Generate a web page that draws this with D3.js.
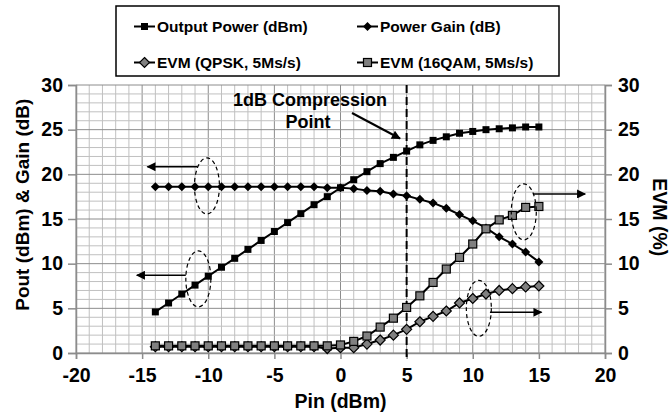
<!DOCTYPE html>
<html><head><meta charset="utf-8">
<script src="https://cdn.jsdelivr.net/npm/d3@7"></script>
<style>
body{margin:0;background:#fff;}
text{font-family:"Liberation Sans",Arial,sans-serif;font-weight:bold;fill:#000;}
</style></head>
<body><svg id="c" width="671" height="416"></svg>
<script>
const pin = d3.range(-14, 16);
const outputPower = [4.6,5.6,6.6,7.6,8.6,9.6,10.6,11.6,12.6,13.6,14.6,15.6,16.6,17.5,18.5,19.4,20.3,21.2,21.9,22.6,23.3,23.8,24.2,24.6,24.8,25.0,25.1,25.2,25.3,25.3];
const powerGain = [18.6,18.6,18.6,18.6,18.6,18.6,18.6,18.6,18.6,18.6,18.6,18.6,18.6,18.5,18.5,18.4,18.2,18.1,17.8,17.6,17.2,16.8,16.2,15.5,14.8,14.0,13.0,12.2,11.3,10.2];
const evmQPSK = [0.7,0.7,0.7,0.7,0.7,0.7,0.7,0.7,0.7,0.7,0.7,0.7,0.7,0.5,0.6,0.6,1.0,1.45,2.0,2.65,3.5,4.1,4.7,5.6,6.1,6.6,7.0,7.2,7.4,7.5];
const evm16QAM = [0.8,0.8,0.8,0.8,0.8,0.8,0.8,0.8,0.8,0.8,0.8,0.8,0.8,0.8,0.9,1.3,1.9,2.9,3.9,5.1,6.4,7.9,9.4,10.7,12.2,13.9,14.9,15.4,16.3,16.4];
const xTicks = [-20,-15,-10,-5,0,5,10,15,20];
const yTicks = [0,5,10,15,20,25,30];
const legendLabels = ["Output Power (dBm)","Power Gain (dB)","EVM (QPSK, 5Ms/s)","EVM (16QAM, 5Ms/s)"];

const svg = d3.select("#c");
const x = d3.scaleLinear().domain([-20,20]).range([76,605]);
const yL = d3.scaleLinear().domain([0,30]).range([353,85]);
const yR = d3.scaleLinear().domain([0,30]).range([353,85]);

// grid
const g = svg.append("g");
d3.range(-20,21,1).forEach(v=>{
  g.append("line").attr("x1",x(v)).attr("x2",x(v)).attr("y1",yL(0)).attr("y2",yL(30))
   .attr("stroke", v%5===0 ? "#8c8c8c" : "#c0c0c0").attr("stroke-width",1);
});
d3.range(0,31,1).forEach(v=>{
  g.append("line").attr("x1",x(-20)).attr("x2",x(20)).attr("y1",yL(v)).attr("y2",yL(v))
   .attr("stroke", v%5===0 ? "#8c8c8c" : "#c0c0c0").attr("stroke-width",1);
});

// axes
const fmt = d => String(d);
const ax = svg.append("g").attr("transform",`translate(0,${yL(0)})`)
  .call(d3.axisBottom(x).tickValues(xTicks).tickFormat(fmt).tickSize(6).tickPadding(9));
const al = svg.append("g").attr("transform",`translate(${x(-20)},0)`)
  .call(d3.axisLeft(yL).tickValues(yTicks).tickFormat(fmt).tickSize(8).tickPadding(5));
const ar = svg.append("g").attr("transform",`translate(${x(20)},0)`)
  .call(d3.axisRight(yR).tickValues(yTicks).tickFormat(fmt).tickSize(7).tickPadding(6));
[ax,al,ar].forEach(a=>{
  a.select(".domain").attr("stroke","#8c8c8c").attr("stroke-width",1.5);
  a.selectAll(".tick line").attr("stroke","#8c8c8c").attr("stroke-width",1.5);
  a.selectAll(".tick text").style("font-size","19.5px").style("font-family","Liberation Sans, Arial, sans-serif").style("font-weight","bold").attr("fill","#000");
});

// axis titles
svg.append("text").attr("x",x(0)).attr("y",408).attr("text-anchor","middle").style("font-size","19.5px").text("Pin (dBm)");
svg.append("text").attr("transform",`translate(29,${yL(16.6)}) rotate(-90)`).attr("text-anchor","middle").style("font-size","19px").text("Pout (dBm) & Gain (dB)");
svg.append("text").attr("transform",`translate(653,${yR(15.2)}) rotate(90)`).attr("text-anchor","middle").style("font-size","19.5px").text("EVM (%)");

// 1dB compression line
svg.append("line").attr("x1",x(5)).attr("x2",x(5)).attr("y1",yL(30)).attr("y2",yL(0)+6)
  .attr("stroke","#000").attr("stroke-width",2).attr("stroke-dasharray","8,4");

// defs arrow
svg.append("defs").append("marker").attr("id","ah").attr("viewBox","0 0 10 10").attr("refX",9).attr("refY",5)
  .attr("markerWidth",10).attr("markerHeight",9).attr("markerUnits","userSpaceOnUse").attr("orient","auto")
  .append("path").attr("d","M0,0 L10,5 L0,10 Z").attr("fill","#000");

// series
const line = (ys, sc) => d3.line().x((d,i)=>x(pin[i])).y(d=>sc(d))(ys);
const series = [
  {v:outputPower, sc:yL, shape:"sq", fill:"#000", size:7},
  {v:powerGain, sc:yL, shape:"di", fill:"#000", size:9},
  {v:evmQPSK, sc:yR, shape:"di", fill:"#808080", size:10},
  {v:evm16QAM, sc:yR, shape:"sq", fill:"#808080", size:8},
];
function drawMarker(sel, shape, cx, cy, size, fill){
  if(shape==="sq"){
    sel.append("rect").attr("x",cx-size/2).attr("y",cy-size/2).attr("width",size).attr("height",size)
      .attr("fill",fill).attr("stroke","#000").attr("stroke-width",fill==="#000"?0:1.2);
  } else {
    const h=size/2;
    sel.append("path").attr("d",`M${cx},${cy-h}L${cx+h},${cy}L${cx},${cy+h}L${cx-h},${cy}Z`)
      .attr("fill",fill).attr("stroke","#000").attr("stroke-width",fill==="#000"?0:1.2);
  }
}
series.forEach(s=>{
  svg.append("path").attr("d",line(s.v,s.sc)).attr("fill","none").attr("stroke","#000").attr("stroke-width",2);
});
series.forEach(s=>{
  const gg = svg.append("g");
  s.v.forEach((d,i)=>drawMarker(gg,s.shape,x(pin[i]),s.sc(d),s.size,s.fill));
});

// annotations: ellipses + arrows
const ann = svg.append("g");
function ellipse(cx,cy){ ann.append("ellipse").attr("cx",x(cx)).attr("cy",yL(cy)).attr("rx",12.5).attr("ry",28)
  .attr("fill","none").attr("stroke","#000").attr("stroke-width",1.2).attr("stroke-dasharray","4,3"); }
function arrow(x1,x2,yv){ ann.append("line").attr("x1",x(x1)).attr("x2",x(x2)).attr("y1",yL(yv)).attr("y2",yL(yv))
  .attr("stroke","#000").attr("stroke-width",1.5).attr("marker-end","url(#ah)"); }
ellipse(-10.1,18.7); arrow(-10.8,-14.6,20.85);
ellipse(-10.75,8.3); arrow(-11.7,-15.4,8.7);
ellipse(13.86,15.8); arrow(14.55,18.5,17.8);
ellipse(10.46,5.0); arrow(11.3,15.2,4.55);

// compression label
svg.append("text").attr("x",310).attr("y",106).attr("text-anchor","middle").style("font-size","18px").text("1dB Compression");
svg.append("text").attr("x",308).attr("y",128).attr("text-anchor","middle").style("font-size","18px").text("Point");
ann.append("line").attr("x1",352).attr("y1",113).attr("x2",400).attr("y2",138.5).attr("stroke","#000").attr("stroke-width",2).attr("marker-end","url(#ah)");

// legend
const lg = svg.append("g");
lg.append("rect").attr("x",116).attr("y",6).attr("width",443).attr("height",70).attr("fill","#fff").attr("stroke","#000").attr("stroke-width",1.5);
const lpos = [[134,26.5],[357,26.5],[134,62.5],[357,62.5]];
series.forEach((s,i)=>{
  const [lx,ly]=lpos[i];
  lg.append("line").attr("x1",lx).attr("x2",lx+21).attr("y1",ly).attr("y2",ly).attr("stroke","#000").attr("stroke-width",2);
  drawMarker(lg,s.shape,lx+10.5,ly,s.size,s.fill);
  lg.append("text").attr("x",lx+23).attr("y",ly+5.5).style("font-size","15.5px").text(legendLabels[i]);
});
</script></body></html>
